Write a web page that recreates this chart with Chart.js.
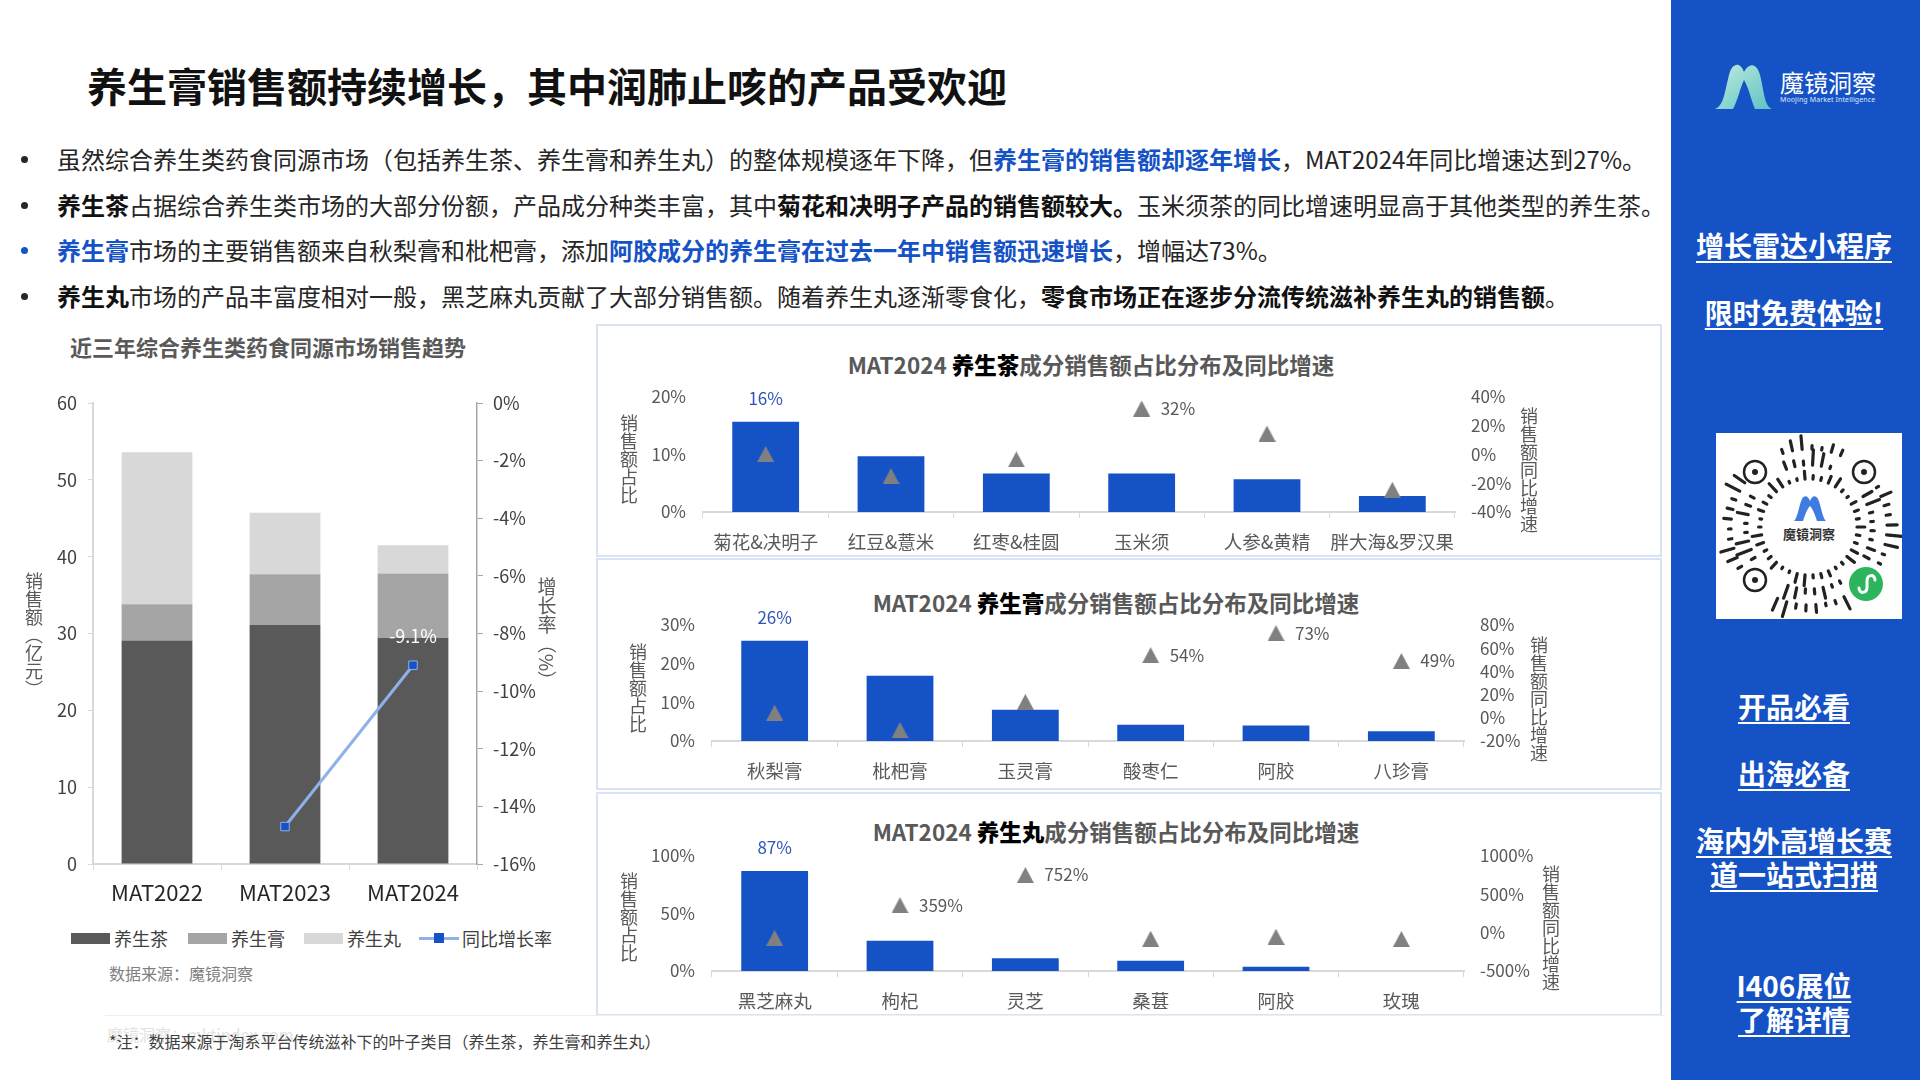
<!DOCTYPE html>
<html lang="zh-CN">
<head>
<meta charset="utf-8">
<title>养生膏销售额持续增长</title>
<script src="https://cdn.jsdelivr.net/npm/chart.js@4/dist/chart.umd.min.js"></script>
<style>
    html, body { margin: 0; padding: 0; background: #fff; }
    #page { position: relative; width: 1920px; height: 1080px; overflow: hidden; background: #fff;
        font-family: "Noto Sans CJK SC", "Noto Sans", sans-serif; color: #262626; }
    #page > * { position: absolute; }
    canvas { display: block; }
    .t { white-space: nowrap; line-height: 1; }
    .title { left: 87px; top: 65px; font-size: 40px; font-weight: 700; color: #111; }
    .bullet { left: 57px; font-size: 24px; white-space: nowrap; line-height: 1; }
    .dot { left: 21px; width: 7px; height: 7px; border-radius: 50%; background: #262626; }
    .bullet b { font-weight: 700; color: #111; }
    .bullet b.blue, .blue { color: #1452C6; }
    .sub { left: 70px; top: 335px; font-size: 22px; font-weight: 700; color: #595959; }
    .panel { left: 596px; width: 1062px; border: 2px solid #D9E3F6; box-sizing: content-box; }
    .ptitle { font-size: 22.5px; font-weight: 700; color: #595959; transform: translateX(-50%); }
    .ptitle b { color: #000; }
    .vert { writing-mode: vertical-rl; font-size: 18px; line-height: 1; color: #595959; white-space: nowrap;
        transform: translate(-50%, -50%); }
    .legend-item { font-size: 18px; line-height: 1; color: #404040; white-space: nowrap; }
    .swatch { height: 11px; width: 39px; }
    .side { left: 1671px; top: 0; width: 249px; height: 1080px; background: #1452C6; }
    .link { left: 1794px; transform: translateX(-50%); color: #fff; font-size: 28px; font-weight: 700;
        text-decoration: underline; text-underline-offset: 4px; white-space: nowrap; line-height: 1; }
    .qr { left: 1716px; top: 433px; width: 186px; height: 186px; background: #fff; }
</style>
</head>
<body>
<div id="page">
    <div class="t title">养生膏销售额持续增长&#xFF0C;其中润肺止咳的产品受欢迎</div>

    <div class="dot" style="top:156px"></div>
    <div class="bullet" style="top:147px">虽然综合养生类药食同源市场&#xFF08;包括养生茶、养生膏和养生丸&#xFF09;的整体规模逐年下降&#xFF0C;但<b class="blue">养生膏的销售额却逐年增长</b>&#xFF0C;MAT2024年同比增速达到27%。</div>
    <div class="dot" style="top:202px"></div>
    <div class="bullet" style="top:193px"><b>养生茶</b>占据综合养生类市场的大部分份额&#xFF0C;产品成分种类丰富&#xFF0C;其中<b>菊花和决明子产品的销售额较大。</b>玉米须茶的同比增速明显高于其他类型的养生茶。</div>
    <div class="dot" style="top:247px;background:#1452C6"></div>
    <div class="bullet" style="top:238px"><b class="blue">养生膏</b>市场的主要销售额来自秋梨膏和枇杷膏&#xFF0C;添加<b class="blue">阿胶成分的养生膏在过去一年中销售额迅速增长</b>&#xFF0C;增幅达73%。</div>
    <div class="dot" style="top:293px"></div>
    <div class="bullet" style="top:284px"><b>养生丸</b>市场的产品丰富度相对一般&#xFF0C;黑芝麻丸贡献了大部分销售额。随着养生丸逐渐零食化&#xFF0C;<b>零食市场正在逐步分流传统滋补养生丸的销售额</b>。</div>

    <div class="t sub">近三年综合养生类药食同源市场销售趋势</div>

    <div class="panel" style="top:324px;height:229px"></div>
    <div class="panel" style="top:558px;height:228px"></div>
    <div class="panel" style="top:792px;height:220px"></div>

    <div class="t ptitle" style="left:1091px;top:353px">MAT2024 <b>养生茶</b>成分销售额占比分布及同比增速</div>
    <div class="t ptitle" style="left:1116px;top:591px">MAT2024 <b>养生膏</b>成分销售额占比分布及同比增速</div>
    <div class="t ptitle" style="left:1116px;top:820px">MAT2024 <b>养生丸</b>成分销售额占比分布及同比增速</div>

    <canvas id="trendChart" width="590" height="540" style="left:0;top:380px"></canvas>
    <canvas id="teaChart" width="1050" height="183" style="left:600px;top:370px"></canvas>
    <canvas id="gaoChart" width="1050" height="186" style="left:600px;top:599px"></canvas>
    <canvas id="wanChart" width="1050" height="182" style="left:600px;top:830px"></canvas>

    <div class="vert" style="left:34px;top:635px">销售额&#xFF08;亿元&#xFF09;</div>
    <div class="vert" style="left:547px;top:634px;font-size:19px">增长率&#xFF08;%&#xFF09;</div>
    <div class="vert" style="left:629px;top:459px">销售额占比</div>
    <div class="vert" style="left:1529px;top:470px">销售额同比增速</div>
    <div class="vert" style="left:638px;top:688px">销售额占比</div>
    <div class="vert" style="left:1539px;top:699px">销售额同比增速</div>
    <div class="vert" style="left:629px;top:917px">销售额占比</div>
    <div class="vert" style="left:1551px;top:928px">销售额同比增速</div>

    <div id="legendBox" style="left:0;top:0"></div>

    <div class="t" style="left:109px;top:965px;font-size:16px;color:#7f7f7f">数据来源&#xFF1A;魔镜洞察</div>
    <div style="left:105px;top:1015px;width:1560px;height:1px;background:#eeeeee"></div>
    <div class="t" style="left:107px;top:1026px;font-size:16px;color:#e2e2e2">魔镜洞察&#xFF1A;mktindex.com</div>
    <div class="t" style="left:109px;top:1033px;font-size:16px;color:#404040">*注&#xFF1A;数据来源于淘系平台传统滋补下的叶子类目&#xFF08;养生茶&#xFF0C;养生膏和养生丸&#xFF09;</div>

    <div class="side"></div>
    <svg style="left:1713px;top:60px" width="60" height="52" viewBox="0 0 60 52">
        <defs><linearGradient id="logoGrad" x1="0" y1="0" x2="1" y2="1">
            <stop offset="0" stop-color="#BFEBDD"/><stop offset="1" stop-color="#5CC2C4"/></linearGradient></defs>
        <path d="M2 49 C11 46 12 30 16 15 C19 3 27 1 31 12 C36 2 44 3 47 15 C51 30 51 46 59 49 L42 49 C38 40 36 28 31 20 C27 28 25 40 20 49 Z" fill="url(#logoGrad)"/>
    </svg>
    <div class="t" style="left:1780px;top:70px;font-size:24px;color:#fff;letter-spacing:0">魔镜洞察</div>
    <div class="t" style="left:1780px;top:96px;font-size:7px;color:#dfe8fa;font-family:'Noto Sans';letter-spacing:.1px">Moojing Market Intelligence</div>

    <div class="link" style="top:231px">增长雷达小程序</div>
    <div class="link" style="top:298px">限时免费体验!</div>
    <svg id="qrCode" class="qr" viewBox="0 0 186 186"></svg>
    <div class="link" style="top:692px">开品必看</div>
    <div class="link" style="top:759px">出海必备</div>
    <div class="link" style="top:826px">海内外高增长赛</div>
    <div class="link" style="top:860px">道一站式扫描</div>
    <div class="link" style="top:971px">I406展位</div>
    <div class="link" style="top:1005px">了解详情</div>
</div>

<script>
// left chart
const years = ["MAT2022", "MAT2023", "MAT2024"];
const teaSales = [29.1, 31.1, 29.4];
const gaoSales = [4.7, 6.6, 8.4];
const wanSales = [19.8, 8.0, 3.7];
const yoyRate = [null, -14.7, -9.1];
const salesTicks = [0, 10, 20, 30, 40, 50, 60];
const rateTicks = [-16, -14, -12, -10, -8, -6, -4, -2, 0];

// right charts
const teaNames = ["菊花&决明子", "红豆&薏米", "红枣&桂圆", "玉米须", "人参&黄精", "胖大海&罗汉果"];
const teaShare = [15.7, 9.7, 6.7, 6.7, 5.7, 2.8];
const teaGrowth = [0.4, -15, -3.4, 32, 14.6, -24.6];
const teaGrowthShown = [3];
const teaShareTicks = [0, 10, 20];
const teaGrowthTicks = [-40, -20, 0, 20, 40];

const gaoNames = ["秋梨膏", "枇杷膏", "玉灵膏", "酸枣仁", "阿胶", "八珍膏"];
const gaoShare = [25.9, 16.9, 8.1, 4.2, 4.0, 2.5];
const gaoGrowth = [4.5, -10.5, 13.7, 54, 73, 49];
const gaoGrowthShown = [3, 4, 5];
const gaoShareTicks = [0, 10, 20, 30];
const gaoGrowthTicks = [-20, 0, 20, 40, 60, 80];

const wanNames = ["黑芝麻丸", "枸杞", "灵芝", "桑葚", "阿胶", "玫瑰"];
const wanShare = [87, 26.3, 11, 9, 3.8, 0];
const wanGrowth = [-67, 359, 752, -80, -54, -83];
const wanGrowthShown = [1, 2];
const wanShareTicks = [0, 50, 100];
const wanGrowthTicks = [-500, 0, 500, 1000];

const legendNames = ["养生茶", "养生膏", "养生丸", "同比增长率"];

const FONT = '"Noto Sans CJK SC", "Noto Sans", sans-serif';
const BLUE = "#1452C6";
Chart.defaults.font.family = FONT;
Chart.defaults.animation = false;

function percent(v) { return v + "%"; }
function fixTicks(list) {
    return function (axis) { axis.ticks = list.map(function (v) { return { value: v }; }); };
}
function fixWidth(w) { return function (axis) { axis.width = w; }; }
function fixHeight(h) { return function (axis) { axis.height = h; }; }

// marker centred on its value, the built in triangle sits a bit high
function triangleMark() {
    const c = document.createElement("canvas");
    c.width = 17;
    c.height = 16;
    const g = c.getContext("2d");
    g.fillStyle = "#808080";
    g.beginPath();
    g.moveTo(8.5, 0);
    g.lineTo(17, 16);
    g.lineTo(0, 16);
    g.closePath();
    g.fill();
    return c;
}
const triangle = triangleMark();

// labels next to points, chart.js v4 has no datalabels of its own
const pointLabels = {
    id: "pointLabels",
    afterDatasetsDraw(chart) {
        const ctx = chart.ctx;
        chart.data.datasets.forEach(function (ds, i) {
            if (!ds.pointTexts) return;
            const meta = chart.getDatasetMeta(i);
            ctx.save();
            ctx.font = ds.pointTextSize + "px " + FONT;
            ctx.fillStyle = ds.pointTextColor;
            ctx.textAlign = ds.pointTextAlign;
            ctx.textBaseline = "middle";
            ds.pointTexts.forEach(function (idx) {
                const el = meta.data[idx];
                const v = ds.pointTextRound ? Math.round(ds.data[idx]) : ds.data[idx];
                ctx.fillText(v + "%", el.x + ds.pointTextDx, el.y + ds.pointTextDy);
            });
            ctx.restore();
        });
    }
};

new Chart(document.getElementById("trendChart"), {
    type: "bar",
    plugins: [pointLabels],
    data: {
        labels: years,
        datasets: [
            { type: "line", label: legendNames[3], data: yoyRate, yAxisID: "y1", order: 0,
              borderColor: "#8FB1EA", borderWidth: 3, pointStyle: "rect", pointRadius: 6,
              pointBackgroundColor: BLUE, pointBorderColor: "#8FB1EA", pointBorderWidth: 1,
              pointTexts: [2], pointTextSize: 18, pointTextColor: "#fff", pointTextAlign: "center",
              pointTextDx: 0, pointTextDy: -29 },
            { label: legendNames[0], data: teaSales, backgroundColor: "#595959", order: 1 },
            { label: legendNames[1], data: gaoSales, backgroundColor: "#A5A5A5", order: 1 },
            { label: legendNames[2], data: wanSales, backgroundColor: "#D8D8D8", order: 1 }
        ]
    },
    options: {
        responsive: false,
        layout: { padding: { top: 23 } },
        categoryPercentage: 1,
        barPercentage: 0.553,
        plugins: { legend: { display: false }, tooltip: { enabled: false } },
        scales: {
            x: {
                stacked: true,
                afterFit: fixHeight(56),
                border: { color: "#D9D9D9", width: 2 },
                grid: { drawOnChartArea: false, tickColor: "#D9D9D9", tickLength: 6 },
                ticks: { color: "#262626", font: { size: 22 }, padding: 9 }
            },
            y: {
                stacked: true, min: 0, max: 60,
                afterFit: fixWidth(93),
                afterBuildTicks: fixTicks(salesTicks),
                border: { color: "#D9D9D9", width: 2 },
                grid: { drawOnChartArea: false, tickColor: "#D9D9D9", tickLength: 5 },
                ticks: { color: "#404040", font: { size: 18 }, padding: 11, autoSkip: false }
            },
            y1: {
                position: "right", min: -16, max: 0,
                afterFit: fixWidth(113),
                afterBuildTicks: fixTicks(rateTicks),
                border: { color: "#A6A6A6", width: 1.5 },
                grid: { drawOnChartArea: false, tickColor: "#A6A6A6", tickLength: 6 },
                ticks: { color: "#404040", font: { size: 18 }, padding: 10, autoSkip: false, callback: percent }
            }
        }
    }
});

function shareChart(id, names, share, growth, shown, shareTicks, growthTicks, box) {
    new Chart(document.getElementById(id), {
        type: "bar",
        plugins: [pointLabels],
        data: {
            labels: names,
            datasets: [
                { type: "line", data: growth, yAxisID: "y1", order: 0, showLine: false,
                  pointStyle: triangle, pointRadius: 9,
                  pointTexts: shown, pointTextSize: 17, pointTextColor: "#595959", pointTextAlign: "left",
                  pointTextDx: 19, pointTextDy: 0 },
                { data: share, backgroundColor: BLUE, order: 1,
                  pointTexts: [0], pointTextRound: true, pointTextSize: 17, pointTextColor: "#2F55B8", pointTextAlign: "center",
                  pointTextDx: 0, pointTextDy: -23 }
            ]
        },
        options: {
            responsive: false,
            layout: { padding: { top: box.top } },
            categoryPercentage: 1,
            barPercentage: 0.533,
            plugins: { legend: { display: false }, tooltip: { enabled: false } },
            scales: {
                x: {
                    afterFit: fixHeight(box.bottom),
                    border: { color: "#D9D9D9", width: 2 },
                    grid: { drawOnChartArea: false, tickColor: "#D9D9D9", tickLength: 6 },
                    ticks: { color: "#595959", font: { size: 18.5 }, padding: 12.5, maxRotation: 0, autoSkip: false }
                },
                y: {
                    min: shareTicks[0], max: shareTicks[shareTicks.length - 1],
                    afterFit: fixWidth(box.left),
                    afterBuildTicks: fixTicks(shareTicks),
                    border: { display: false },
                    grid: { display: false },
                    ticks: { color: "#595959", font: { size: 17 }, padding: 9, autoSkip: false, callback: percent }
                },
                y1: {
                    position: "right",
                    min: growthTicks[0], max: growthTicks[growthTicks.length - 1],
                    afterFit: fixWidth(box.right),
                    afterBuildTicks: fixTicks(growthTicks),
                    border: { display: false },
                    grid: { display: false },
                    ticks: { color: "#595959", font: { size: 17 }, padding: 8, autoSkip: false, callback: percent }
                }
            }
        }
    });
}

shareChart("teaChart", teaNames, teaShare, teaGrowth, teaGrowthShown, teaShareTicks, teaGrowthTicks,
    { top: 27, bottom: 41, left: 103, right: 195 });
shareChart("gaoChart", gaoNames, gaoShare, gaoGrowth, gaoGrowthShown, gaoShareTicks, gaoGrowthTicks,
    { top: 26, bottom: 44, left: 112, right: 186 });
shareChart("wanChart", wanNames, wanShare, wanGrowth, wanGrowthShown, wanShareTicks, wanGrowthTicks,
    { top: 26, bottom: 41, left: 112, right: 186 });

// html legend under the left chart
const legendBox = document.getElementById("legendBox");
const legendColors = ["#595959", "#A5A5A5", "#D8D8D8"];
const legendX = [71, 188, 304];
legendNames.slice(0, 3).forEach(function (name, i) {
    legendBox.insertAdjacentHTML("beforeend",
        '<div class="swatch" style="position:absolute;left:' + legendX[i] + 'px;top:933px;background:' + legendColors[i] + '"></div>' +
        '<div class="legend-item" style="position:absolute;left:' + (legendX[i] + 43) + 'px;top:929px">' + name + '</div>');
});
legendBox.insertAdjacentHTML("beforeend",
    '<div style="position:absolute;left:419px;top:937px;width:40px;height:3px;background:#8FB1EA"></div>' +
    '<div style="position:absolute;left:434px;top:933px;width:10px;height:10px;background:' + BLUE + '"></div>' +
    '<div class="legend-item" style="position:absolute;left:462px;top:929px">' + legendNames[3] + '</div>');

// mini program code, only a decoration
(function () {
    const svg = document.getElementById("qrCode");
    const cx = 93, cy = 94;
    const lens = [13, 4, 18, 6, 3, 15, 5, 9, 3, 12, 7, 3, 16, 5];
    let out = "";
    [48, 62, 78].forEach(function (r, ring) {
        const count = 38 + ring * 6;
        for (let i = 0; i < count; i++) {
            const a = (i + ring * 0.4) / count * Math.PI * 2;
            const deg = a * 180 / Math.PI;
            if (ring > 0 && ((deg > 215 && deg < 245) || (deg > 295 && deg < 325) || (deg > 115 && deg < 145) || (deg > 30 && deg < 60))) continue;
            const len = lens[(i * 3 + ring) % lens.length] * (ring === 0 ? 0.6 : 0.85);
            out += '<line x1="' + (cx + r * Math.cos(a)) + '" y1="' + (cy + r * Math.sin(a)) +
                '" x2="' + (cx + (r + len) * Math.cos(a)) + '" y2="' + (cy + (r + len) * Math.sin(a)) +
                '" stroke="#222" stroke-width="3.2" stroke-linecap="round"/>';
        }
    });
    [[39, 39], [148, 39], [39, 147]].forEach(function (p) {
        out += '<circle cx="' + p[0] + '" cy="' + p[1] + '" r="11" fill="none" stroke="#222" stroke-width="2.5"/>' +
            '<circle cx="' + p[0] + '" cy="' + p[1] + '" r="3" fill="#222"/>';
    });
    out += '<path d="M78 88 C82 84 83 72 86 66 C88 62 92 62 94 68 C96 62 100 62 102 66 C105 72 106 84 110 88 L101 88 C99 82 97 76 94 73 C91 76 89 82 87 88 Z" fill="#3F7BE0"/>';
    out += '<text x="93" y="106" text-anchor="middle" font-size="13" font-weight="700" fill="#333" font-family=\'"Noto Sans CJK SC"\'>魔镜洞察</text>';
    out += '<circle cx="150" cy="151" r="17" fill="#2DB55D"/>' +
        '<path d="M143 155 C143 161 151 161 151 154 L151 148 C151 141 159 141 159 147" fill="none" stroke="#fff" stroke-width="3" stroke-linecap="round"/>';
    svg.innerHTML = out;
})();
</script>
</body>
</html>
